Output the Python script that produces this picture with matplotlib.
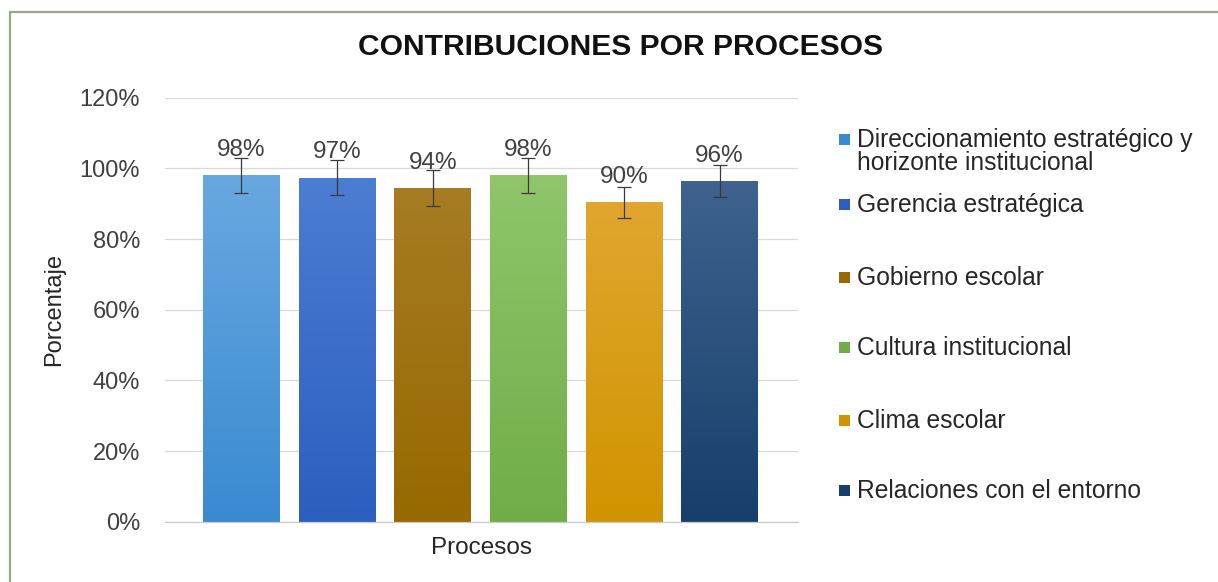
import numpy as np
import matplotlib
matplotlib.use('Agg')
import matplotlib.pyplot as plt
from matplotlib.patches import Rectangle
from matplotlib.colors import to_rgb

plt.rcParams['font.family'] = ['Liberation Sans', 'DejaVu Sans']

procesos = ['Direccionamiento estratégico y\nhorizonte institucional',
            'Gerencia estratégica',
            'Gobierno escolar',
            'Cultura institucional',
            'Clima escolar',
            'Relaciones con el entorno']
valores = [0.98, 0.974, 0.944, 0.98, 0.904, 0.964]
errores = [0.05, 0.05, 0.05, 0.05, 0.044, 0.045]
color_arriba = ['#68A8E0', '#4B7DD2', '#A67C24', '#90C56B', '#E1A62F', '#3F628E']
color_abajo = ['#3A8AD2', '#2C5EC0', '#976900', '#70AD47', '#D09400', '#173F6B']

W, H = 1218, 582
fig = plt.figure(figsize=(W / 100, H / 100), dpi=100)
ax = fig.add_axes([165 / W, 1 - 521.7 / H, (798 - 165) / W, (521.7 - 97.7) / H])

x = np.arange(len(valores))
bars = ax.bar(x, valores, width=0.8, color=color_abajo, zorder=2)

# vertical gradient inside each bar
for b, c1, c2 in zip(bars, color_arriba, color_abajo):
    x0, y0 = b.get_x(), b.get_y()
    grad = np.linspace(0, 1, 100)[:, None, None]
    img = (1 - grad) * np.array(to_rgb(c1)) + grad * np.array(to_rgb(c2))
    im = ax.imshow(img, extent=[x0, x0 + b.get_width(), y0, y0 + b.get_height()],
                   aspect='auto', origin='upper', zorder=2.1)
    im.set_clip_path(b)

ax.errorbar(x, valores, yerr=errores, fmt='none', ecolor='#3a3a3a',
            elinewidth=0.9, capsize=4.7, capthick=0.9, zorder=3)

for xi, v in zip(x, valores):
    ax.annotate(f'{v:.0%}', (xi, v), xytext=(0, 10.5), textcoords='offset points',
                ha='center', va='bottom', fontsize=17.5, color='#404040', zorder=4)

ax.set_xlim(-0.8, 5.82)
ax.set_ylim(0, 1.2)
ax.set_yticks(np.arange(0, 1.21, 0.2))
ax.set_yticklabels([f'{t:.0%}' for t in np.arange(0, 1.21, 0.2)])
ax.set_xticks([])
ax.tick_params(axis='y', length=0, pad=18, labelsize=17, labelcolor='#404040')
ax.yaxis.grid(True, color='#D9D9D9', linewidth=0.9)
ax.set_axisbelow(True)
for s in ['top', 'right', 'left']:
    ax.spines[s].set_visible(False)
ax.spines['bottom'].set_color('#C8C8C8')
ax.spines['bottom'].set_linewidth(0.9)

ax.set_ylabel('Porcentaje', fontsize=17, color='#262626', labelpad=10)
ax.set_xlabel('Procesos', fontsize=17.5, color='#262626', labelpad=11)

fig.text(620 / W, 1 - 47 / H, 'CONTRIBUCIONES POR PROCESOS', ha='center', va='center',
         fontsize=21.6, fontweight='bold', color='#111111')

# legend drawn by hand to match the spacing of the original
baselines = [146.7, 211.7, 285, 355, 428.3, 498]
for lab, col, yb in zip(procesos, color_abajo, baselines):
    fig.patches.append(Rectangle((839 / W, 1 - (yb - 2) / H), 11 / W, 11 / H,
                                 transform=fig.transFigure, facecolor=col,
                                 edgecolor='none'))
    lines = lab.split('\n')
    for i, ln in enumerate(lines):
        fig.text(857 / W, 1 - (yb + i * 23.5) / H, ln, ha='left', va='baseline',
                 fontsize=17.7, color='#262626')

# outer frame
fig.patches.append(Rectangle((10 / W, -0.05), 1.1, 1 - 12 / H + 0.05,
                             transform=fig.transFigure, facecolor='none',
                             edgecolor='#97A888', linewidth=1.6))

fig.savefig('out.png', dpi=100)
